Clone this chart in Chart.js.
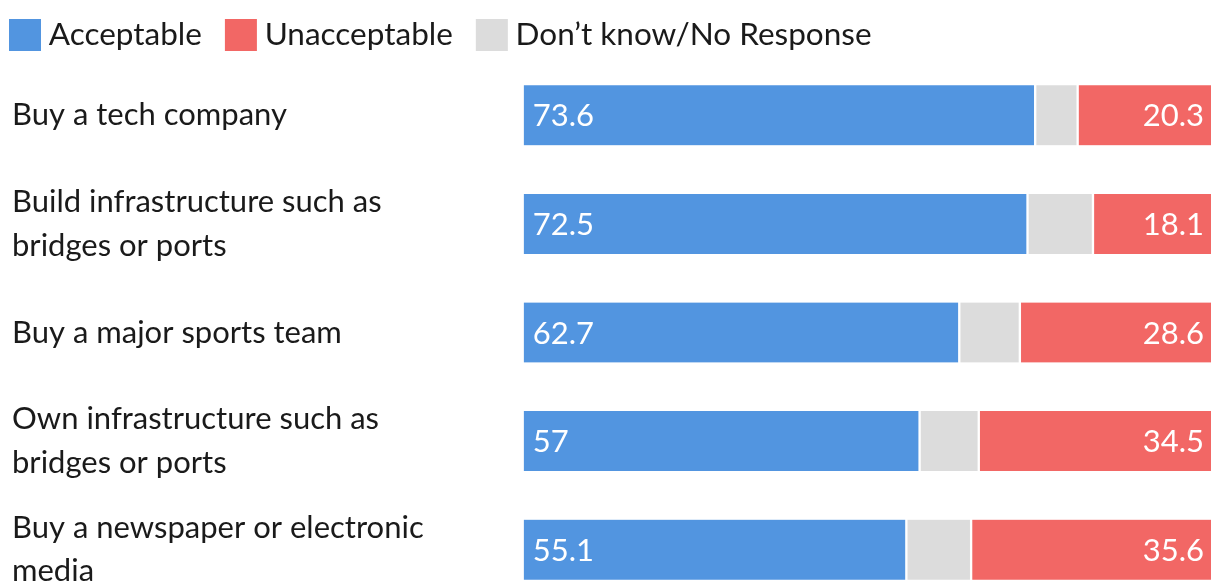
<!DOCTYPE html>
<html>
<head>
<meta charset="utf-8">
<script src="https://cdn.jsdelivr.net/npm/chart.js@4.4.1/dist/chart.umd.min.js"></script>
<style>
html,body{margin:0;padding:0;background:#fff;overflow:hidden;}
canvas{display:block;}
</style>
</head>
<body>
<canvas id="c" width="1219" height="604"></canvas>
<script>
const categories = [
  "Buy a tech company",
  ["Build infrastructure such as", "bridges or ports"],
  "Buy a major sports team",
  ["Own infrastructure such as", "bridges or ports"],
  ["Buy a newspaper or electronic", "media"]
];
const acceptable   = [73.6, 72.5, 62.7, 57.0, 55.1];
const dontKnow     = [6.1, 9.4, 8.7, 8.5, 9.3];
const unacceptable = [20.3, 18.1, 28.6, 34.5, 35.6];
const seriesNames = ["Acceptable", "Don\u2019t know/No Response", "Unacceptable"];
const legendOrder = [0, 2, 1]; // Acceptable, Unacceptable, Don't know

const FONT = "Lato";
const colors = ["#5295E0", "#DCDCDC", "#F26765"];

const valueLabels = {
  id: "valueLabels",
  afterDatasetsDraw(chart) {
    const ctx = chart.ctx;
    ctx.save();
    ctx.fillStyle = "#ffffff";
    ctx.font = "31px " + FONT;
    ctx.textBaseline = "middle";
    chart.data.datasets.forEach((ds, di) => {
      if (di === 1) return;
      const meta = chart.getDatasetMeta(di);
      meta.data.forEach((bar, i) => {
        const txt = String(ds.data[i]);
        if (di === 0) {
          ctx.textAlign = "left";
          ctx.fillText(txt, bar.base + 10, bar.y + 1);
        } else {
          ctx.textAlign = "right";
          ctx.fillText(txt, bar.x - 15, bar.y + 1);
        }
      });
    });
    ctx.restore();
  }
};

// shift category labels to the left margin, and draw full-size legend squares
const layoutTweaks = {
  id: "layoutTweaks",
  afterLayout(chart) {
    chart.scales.y.left = 12;
  },
  afterDraw(chart) {
    const lg = chart.legend;
    if (!lg || !lg.legendHitBoxes) return;
    const ctx = chart.ctx;
    ctx.save();
    lg.legendItems.forEach((item, i) => {
      const hb = lg.legendHitBoxes[i];
      ctx.fillStyle = item.realColor;
      ctx.fillRect(hb.left, hb.top + (hb.height - 32) / 2, 32, 32);
    });
    ctx.restore();
  }
};

const mk = (label, data, color) => ({
  label, data,
  backgroundColor: color,
  borderColor: "#ffffff",
  borderWidth: {left: 1.5, right: 1.5, top: 0, bottom: 0},
  borderSkipped: false,
  barThickness: 60
});

new Chart(document.getElementById("c"), {
  type: "bar",
  data: {
    labels: categories,
    datasets: [
      mk(seriesNames[0], acceptable, colors[0]),
      mk(seriesNames[1], dontKnow, colors[1]),
      mk(seriesNames[2], unacceptable, colors[2])
    ]
  },
  options: {
    indexAxis: "y",
    responsive: false,
    animation: false,
    layout: {padding: {left: -14, right: 0, top: -4, bottom: 0}},
    plugins: {
      tooltip: {enabled: false},
      legend: {
        position: "top",
        align: "start",
        labels: {
          boxWidth: 24,
          boxHeight: 32,
          padding: 23,
          color: "#1a1a1a",
          font: {family: FONT, size: 31.5},
          sort: (a, b) => legendOrder.indexOf(a.datasetIndex) - legendOrder.indexOf(b.datasetIndex),
          generateLabels: (chart) => Chart.defaults.plugins.legend.labels.generateLabels(chart).map(l =>
            Object.assign(l, {realColor: l.fillStyle, fillStyle: "rgba(0,0,0,0)", strokeStyle: "rgba(0,0,0,0)", lineWidth: 0}))
        }
      }
    },
    scales: {
      x: {stacked: true, min: 0, max: 100, display: false},
      y: {
        stacked: true,
        grid: {display: false},
        border: {display: false},
        ticks: {
          crossAlign: "far",
          color: "#1a1a1a",
          font: {family: FONT, size: 31, lineHeight: 1.4},
          padding: 0
        },
        afterFit(scale) {
          scale.width = 536.7;
          scale.paddingTop = 0;
          scale.paddingBottom = 0;
        }
      }
    }
  },
  plugins: [valueLabels, layoutTweaks]
});
</script>
</body>
</html>
